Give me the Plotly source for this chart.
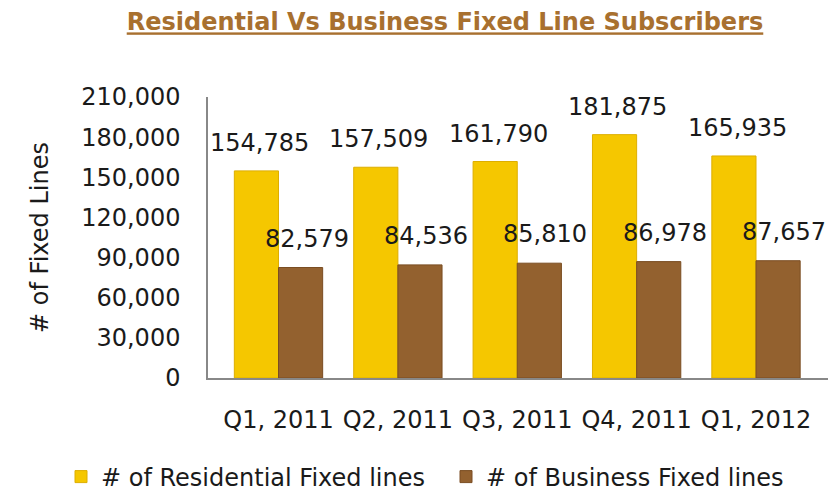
import plotly.graph_objects as go

categories = ["Q1, 2011", "Q2, 2011", "Q3, 2011", "Q4, 2011", "Q1, 2012"]
residential = [154785, 157509, 161790, 181875, 165935]
business = [82579, 84536, 85810, 86978, 87657]
tick_vals = [0, 30000, 60000, 90000, 120000, 150000, 180000, 210000]
tick_text = ["0", "30,000", "60,000", "90,000", "120,000", "150,000", "180,000", "210,000"]

FONT = "DejaVu Sans"
W, H = 832, 486          # page body has an 8px margin
L, R, T, B = 200, 12, 89, 116

fig = go.Figure()
fig.add_trace(go.Bar(
    x=categories, y=residential, name="# of Residential Fixed lines",
    marker=dict(color="#F5C700", line=dict(color="#DDAE00", width=1)),
    legend="legend", showlegend=True,
))
fig.add_trace(go.Bar(
    x=categories, y=business, name="# of Business Fixed lines",
    marker=dict(color="#93612F", line=dict(color="#7A4D22", width=1)),
    legend="legend2", showlegend=True,
))

annotations = []
for c, v in zip(categories, residential):
    annotations.append(dict(x=c, y=v, text=f"{v:,}", showarrow=False, xanchor="center",
                            yanchor="bottom", xshift=-19, yshift=12,
                            font=dict(size=24, color="#1a1a1a", family=FONT)))
for c, v in zip(categories, business):
    annotations.append(dict(x=c, y=v, text=f"{v:,}", showarrow=False, xanchor="center",
                            yanchor="bottom", xshift=28, yshift=13,
                            font=dict(size=24, color="#1a1a1a", family=FONT)))

legend_common = dict(orientation="h", xref="container", xanchor="left",
                     yref="container", yanchor="middle", y=1 - 469 / H,
                     font=dict(size=24, color="#1a1a1a"), itemwidth=30,
                     bgcolor="rgba(0,0,0,0)", visible=True)

fig.update_layout(
    width=W, height=H,
    showlegend=True,
    margin=dict(l=L, r=R, t=T, b=B),
    paper_bgcolor="white", plot_bgcolor="white",
    barmode="group", bargap=0.26, bargroupgap=0,
    font=dict(family=FONT, color="#1a1a1a"),
    annotations=annotations,
    title=dict(
        text="<u><b>Residential Vs Business Fixed Line Subscribers</b></u>",
        x=437 / W, xref="container", xanchor="center",
        y=1 - 14 / H, yref="container", yanchor="middle",
        font=dict(size=24, color="#A8702F", family=FONT),
    ),
    xaxis=dict(
        showgrid=False, zeroline=False, automargin=False,
        showline=True, linecolor="#888888", linewidth=1.5,
        tickfont=dict(size=24, color="#1a1a1a"),
        ticks="", ticklabelstandoff=19,
    ),
    yaxis=dict(
        range=[0, 210000], tickvals=tick_vals, ticktext=tick_text,
        showgrid=False, zeroline=False, automargin=False,
        showline=True, linecolor="#888888", linewidth=1.5,
        tickfont=dict(size=24, color="#1a1a1a"),
        ticks="", ticklabelstandoff=21,
        title=dict(text="# of Fixed Lines", font=dict(size=24, color="#1a1a1a"), standoff=26),
    ),
    legend=dict(x=53 / W, **legend_common),
    legend2=dict(x=438 / W, **legend_common),
)

fig.write_html("out.html")
